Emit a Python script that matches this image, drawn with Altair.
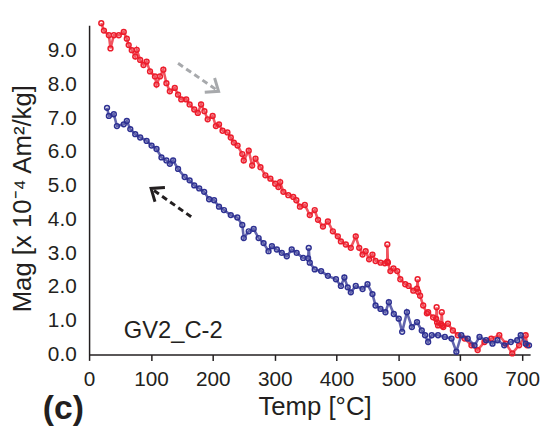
import altair as alt
import pandas as pd

# Heating curve (red)
red_temp = [19.7, 24, 32, 34.6, 40, 48, 56, 61, 64, 69, 74.6, 77, 82.6, 88, 93, 98.5,
            106.5, 109, 114.5, 120, 125, 130.5, 138.5, 143.8, 149, 157, 162.5, 170,
            175.7, 181, 186.4, 191.7, 199.7, 205, 210, 215.7, 223.6, 229, 234, 240,
            247.6, 250, 258, 263.6, 269, 277, 285, 293, 300.8, 306, 308.8, 314, 322,
            330, 335, 340.8, 348.7, 356.7, 364.7, 370, 378, 386, 394, 402, 407, 415,
            423, 431, 436.6, 442, 447, 452.6, 458, 463, 471, 478, 482, 482, 483, 487,
            492, 498, 503, 511, 516.5, 524, 530, 531, 532, 535, 540, 546, 548, 556,
            561, 561.7, 562.5, 564, 569, 570, 571, 572.5, 580, 588, 596, 607, 618,
            628, 639, 650, 663, 673.6, 684, 695, 705.6, 708]
red_mag = [9.82, 9.6, 9.46, 9.07, 9.46, 9.46, 9.56, 9.36, 9.17, 9.02, 8.83, 9.03, 8.73,
           8.58, 8.68, 8.39, 8.24, 8.0, 8.24, 8.44, 8.04, 7.8, 7.9, 7.7, 7.56, 7.56,
           7.41, 7.26, 7.16, 7.41, 7.21, 6.97, 7.07, 6.77, 6.82, 6.63, 6.58, 6.43, 6.28,
           6.19, 5.94, 5.75, 6.04, 5.6, 5.8, 5.55, 5.31, 5.21, 5.06, 4.96, 5.11, 4.82,
           4.72, 4.67, 4.57, 4.38, 4.43, 4.13, 4.28, 3.99, 3.79, 3.94, 3.65, 3.50, 3.35,
           3.26, 3.16, 3.50, 3.16, 2.96, 3.06, 2.82, 2.96, 2.77, 2.72, 2.70, 2.75, 3.26,
           2.72, 2.47, 2.55, 2.47, 2.23, 2.08, 2.03, 1.89, 1.95, 2.23, 1.85, 1.74, 1.45,
           1.22, 1.25, 1.10, 1.05, 1.40, 0.95, 0.86, 0.90, 1.25, 0.85, 0.81, 0.91, 0.71,
           0.57, 0.47, 0.27, 0.13, 0.37, 0.47, 0.57, 0.32, 0.03, 0.27, 0.57, 0.27]

# Cooling curve (blue)
blue_temp = [711, 705.6, 697.6, 692, 681.6, 671, 660, 652, 641.6, 631, 623, 612, 601.6,
             593.6, 585.8, 575, 564, 553.8, 548, 543, 537.7, 530, 521.7, 513.7, 506,
             500.5, 492.5, 484.5, 479, 471, 463, 458, 450, 442, 431, 423, 418, 412.6,
             407, 399, 386, 375, 364.7, 356.7, 355, 354, 346, 335.5, 327.5, 319.5, 311.5,
             303.5, 295.5, 290, 282, 274, 266, 258, 250, 247.6, 239.6, 229, 218, 210,
             202, 194, 186, 178, 170, 162.5, 154.5, 143.8, 135.8, 130.5, 125, 117, 109,
             101, 93, 82.6, 74.6, 66.6, 61, 56, 45, 40, 32, 29]
blue_mag = [0.27, 0.32, 0.57, 0.42, 0.37, 0.27, 0.42, 0.32, 0.42, 0.52, 0.27, 0.47, 0.57,
            0.08, 0.47, 0.52, 0.57, 0.57, 0.37, 0.57, 0.71, 0.96, 0.81, 1.25, 0.67, 1.06,
            1.20, 1.55, 1.25, 1.35, 1.45, 1.79, 2.08, 1.94, 2.03, 1.84, 1.99, 2.28, 2.03,
            2.23, 2.33, 2.47, 2.52, 2.72, 3.16, 2.85, 2.86, 3.01, 3.11, 2.91, 3.01, 3.11,
            3.21, 3.06, 3.30, 3.45, 3.72, 3.65, 3.45, 3.84, 4.06, 4.13, 4.28, 4.38, 4.57,
            4.60, 4.82, 4.92, 5.01, 5.16, 5.26, 5.50, 5.75, 5.65, 5.75, 5.84, 6.09, 6.19,
            6.33, 6.43, 6.53, 6.68, 6.92, 6.82, 6.77, 7.12, 7.07, 7.31]

x_ticks = [0, 100, 200, 300, 400, 500, 600, 700]
y_ticks = [0, 1, 2, 3, 4, 5, 6, 7, 8, 9]

# Annotation arrows (tail -> tip), in data units
arrow_tail_t = [143.8, 165.0]
arrow_tail_m = [8.63, 4.08]
arrow_tip_t = [209.3, 100.2]
arrow_tip_m = [7.80, 4.92]
arrow_color = ["#a7a9ac", "#231f20"]
arrow_angle = [34.6, 215.0]

label_text = ["GV2_C-2"]
label_t = [56]
label_m = [0.5]

RED = "#ec1c2b"
BLUE = "#2e3192"
FONT = "Liberation Sans"

red = pd.DataFrame({"t": red_temp, "m": red_mag, "i": range(len(red_temp))})
blue = pd.DataFrame({"t": blue_temp, "m": blue_mag, "i": range(len(blue_temp))})
arrows = pd.DataFrame({"t": arrow_tail_t, "m": arrow_tail_m, "t2": arrow_tip_t,
                       "m2": arrow_tip_m, "c": arrow_color, "a": arrow_angle})
labels = pd.DataFrame({"t": label_t, "m": label_m, "txt": label_text})

xs = alt.Scale(domain=[0, 712.8], nice=False, zero=False)
ys = alt.Scale(domain=[0, 9.76], nice=False, zero=False)

x_axis = alt.Axis(
    values=x_ticks, title="Temp [°C]", grid=False, tickSize=6, labelPadding=8,
    labelFontSize=21, titleFontSize=26, titleFontWeight="normal",
    titleX=228, titleY=40, labelFlush=False, labelOverlap=False)
y_axis = alt.Axis(
    values=y_ticks, format=".1f", title="Mag [x 10⁻⁴ Am²/kg]", grid=False,
    ticks=False, labelPadding=13, labelFontSize=21, titleFontSize=26,
    titleFontWeight="normal", titleX=-54, titleY=175, labelOverlap=False,
    labelFlush=False)


def X(f="t"):
    return alt.X(f"{f}:Q", scale=xs, axis=x_axis)


def Y(f="m"):
    return alt.Y(f"{f}:Q", scale=ys, axis=y_axis)


def curve(df, color):
    line = alt.Chart(df).mark_line(color=color, strokeWidth=2.6, opacity=0.75).encode(
        x=X(), y=Y(), order="i:Q")
    pts = alt.Chart(df).mark_point(color=color, filled=False, size=24,
                                   strokeWidth=1.5, opacity=1).encode(x=X(), y=Y())
    return line + pts


shafts = alt.Chart(arrows).mark_rule(strokeWidth=3, strokeDash=[6, 4]).encode(
    x=X(), y=Y(), x2="t2:Q", y2="m2:Q",
    color=alt.Color("c:N", scale=None))
heads = alt.Chart(arrows).mark_point(
    shape="M-1,-0.8L0,0L-1,0.8", filled=False, size=480, strokeWidth=3,
    opacity=1).encode(
    x=X("t2"), y=Y("m2"),
    angle=alt.Angle("a:Q", scale=None),
    color=alt.Color("c:N", scale=None))

txt = alt.Chart(labels).mark_text(align="left", baseline="alphabetic",
                                  fontSize=24, font=FONT, color="#231f20").encode(
    x=X(), y=Y(), text="txt:N")

panel = alt.Chart(labels).mark_text(align="center", baseline="alphabetic",
                                    fontSize=34, fontWeight="bold", font=FONT,
                                    color="#231f20").encode(
    x=alt.value(-26), y=alt.value(398), text=alt.value("(c)"))

chart = (curve(red, RED) + curve(blue, BLUE) + shafts + heads + txt
         + panel).properties(
    width=446, height=333,
    autosize=alt.AutoSizeParams(type="none"),
    padding={"left": 82, "top": 15, "right": 10, "bottom": 70},
).configure_view(stroke=None).configure_axis(
    labelFont=FONT, titleFont=FONT, labelColor="#231f20", titleColor="#231f20",
    domainColor="#231f20", tickColor="#231f20", domainWidth=1.5, tickWidth=1.5,
    labelOverlap=False,
)

chart.save("out.html", embed_options={"renderer": "svg", "actions": False})
